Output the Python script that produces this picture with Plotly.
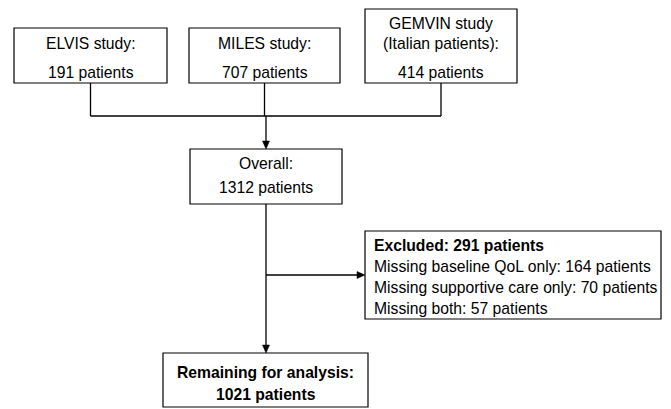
import plotly.graph_objects as go

# ---- data (text content) ----
source_studies = ["ELVIS study:", "MILES study:", "GEMVIN study\n(Italian patients):"]
source_patients = [191, 707, 414]
overall_patients = 1312
excluded_total = 291
excluded_reasons = ["Missing baseline QoL only", "Missing supportive care only", "Missing both"]
excluded_counts = [164, 70, 57]
remaining_patients = 1021

# ---- layout constants (pixel coords, y down) ----
W, H = 671, 409
FONT = "Liberation Sans, Arial, Helvetica, sans-serif"
FS = 15.7
src_boxes = [(14, 28, 167, 83), (189, 28, 340, 83), (365, 9, 517, 83)]
overall_box = (190, 149, 342, 204)
excl_box = (365, 231, 661, 319)
rem_box = (163, 353, 368, 407)
join_y = 116
trunk_x = 266
branch_y = 275

fig = go.Figure()
shapes = []
annos = []

def box(b):
    shapes.append(dict(type="rect", x0=b[0], y0=b[1], x1=b[2], y1=b[3],
                       line=dict(color="black", width=1.2), fillcolor="white", layer="above"))

def line(x0, y0, x1, y1):
    shapes.append(dict(type="line", x0=x0, y0=y0, x1=x1, y1=y1,
                       line=dict(color="black", width=1.3)))

def arrow_down(x, y):
    shapes.append(dict(type="path", path=f"M {x-3.5},{y-8} L {x+3.5},{y-8} L {x},{y} Z",
                       fillcolor="black", line=dict(color="black", width=0.5)))

def arrow_right(x, y):
    shapes.append(dict(type="path", path=f"M {x-8},{y-3.5} L {x-8},{y+3.5} L {x},{y} Z",
                       fillcolor="black", line=dict(color="black", width=0.5)))

def text(x, y, s, anchor="center", bold=False):
    annos.append(dict(x=x, y=y, text=f"<b>{s}</b>" if bold else s, showarrow=False,
                      xanchor=anchor, yanchor="middle",
                      font=dict(family=FONT, size=FS, color="black")))

# source boxes
for b, name, n in zip(src_boxes, source_studies, source_patients):
    box(b)
    cx = (b[0] + b[2]) / 2
    parts = name.split("\n")
    if len(parts) == 1:
        text(cx, 43, parts[0])
    else:
        text(cx, 23, parts[0])
        text(cx, 43, parts[1])
    text(cx, 72, f"{n} patients")
    line(cx, b[3], cx, join_y)

xs = [(b[0] + b[2]) / 2 for b in src_boxes]
line(xs[0], join_y, xs[-1], join_y)
line(trunk_x, join_y, trunk_x, overall_box[1] - 4)
arrow_down(trunk_x, overall_box[1])

# overall
box(overall_box)
text((overall_box[0] + overall_box[2]) / 2, 163, "Overall:")
text((overall_box[0] + overall_box[2]) / 2, 187, f"{overall_patients} patients")

line(trunk_x, overall_box[3], trunk_x, rem_box[1] - 4)
arrow_down(trunk_x, rem_box[1])
line(trunk_x, branch_y, excl_box[0] - 4, branch_y)
arrow_right(excl_box[0], branch_y)

# excluded
box(excl_box)
tx = excl_box[0] + 7
text(tx, 245, f"Excluded: {excluded_total} patients", anchor="left", bold=True)
for i, (r, c) in enumerate(zip(excluded_reasons, excluded_counts)):
    text(tx, 266 + i * 21, f"{r}: {c} patients", anchor="left")

# remaining
box(rem_box)
text((rem_box[0] + rem_box[2]) / 2, 372, "Remaining for analysis:", bold=True)
text((rem_box[0] + rem_box[2]) / 2, 394, f"{remaining_patients} patients", bold=True)

fig.update_layout(
    width=W, height=H, margin=dict(l=0, r=0, t=0, b=0),
    paper_bgcolor="white", plot_bgcolor="white",
    xaxis=dict(range=[0, W], visible=False, fixedrange=True),
    yaxis=dict(range=[H, 0], visible=False, fixedrange=True),
    shapes=shapes, annotations=annos, showlegend=False,
)
fig.write_html("out.html", config={"displayModeBar": False},
               post_script="document.body.style.margin='0';document.body.style.overflow='hidden';")
